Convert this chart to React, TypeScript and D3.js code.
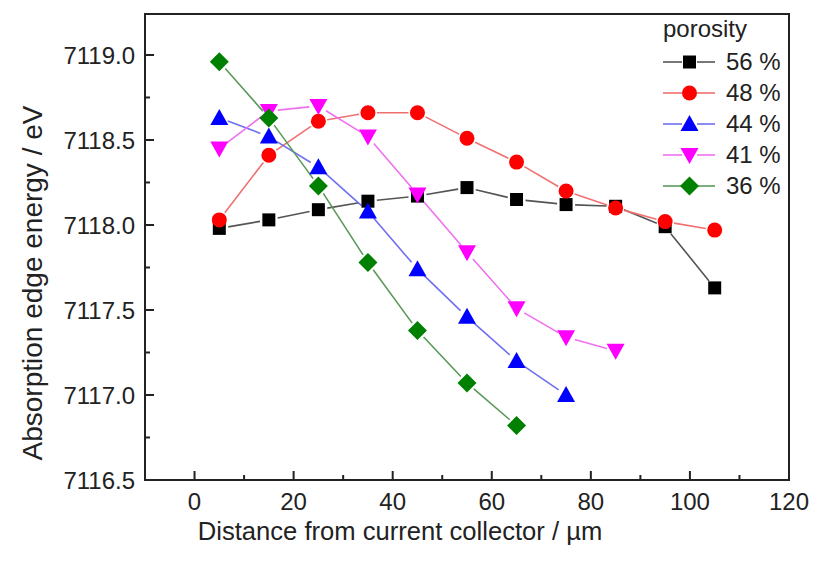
import React from 'react';
import * as d3 from 'd3';

const distances = [5, 15, 25, 35, 45, 55, 65, 75, 85, 95, 105];
const s56 = [7117.98, 7118.03, 7118.09, 7118.14, 7118.17, 7118.22, 7118.15, 7118.12, 7118.11, 7117.99, 7117.63];
const s48 = [7118.03, 7118.41, 7118.61, 7118.66, 7118.66, 7118.51, 7118.37, 7118.20, 7118.10, 7118.02, 7117.97];
const s44 = [7118.63, 7118.52, 7118.34, 7118.08, 7117.74, 7117.46, 7117.20, 7117.00];
const s41 = [7118.45, 7118.67, 7118.70, 7118.52, 7118.18, 7117.84, 7117.51, 7117.34, 7117.26];
const s36 = [7118.96, 7118.63, 7118.23, 7117.78, 7117.38, 7117.07, 7116.82];

const seriesLabels = ['56 %', '48 %', '44 %', '41 %', '36 %'];
const seriesValues = [s56, s48, s44, s41, s36];
const seriesColors = ['#000000', '#ff0000', '#0000ff', '#ff00ff', '#008000'];
const lineColors = ['#555555', '#f07070', '#7070f0', '#f070f0', '#5a9a5a'];
const seriesShapes = ['square', 'circle', 'triangle', 'triangleDown', 'diamond'];

const xTicks = [0, 20, 40, 60, 80, 100, 120];
const xMinor = [10, 30, 50, 70, 90, 110];
const yTicks = [7116.5, 7117.0, 7117.5, 7118.0, 7118.5, 7119.0];
const yMinor = [7116.75, 7117.25, 7117.75, 7118.25, 7118.75];

const FONT = '"Liberation Sans", Arial, Helvetica, sans-serif';

function markerPath(shape: string, cx: number, cy: number): string {
  switch (shape) {
    case 'square':
      return `M${cx - 6.5},${cy - 6.5}h13v13h-13Z`;
    case 'circle':
      return `M${cx - 7.5},${cy}a7.5,7.5 0 1,0 15,0a7.5,7.5 0 1,0 -15,0Z`;
    case 'triangle':
      return `M${cx},${cy - 9}L${cx + 9},${cy + 7}L${cx - 9},${cy + 7}Z`;
    case 'triangleDown':
      return `M${cx},${cy + 9}L${cx + 9},${cy - 7}L${cx - 9},${cy - 7}Z`;
    case 'diamond':
    default:
      return `M${cx},${cy - 9.5}L${cx + 9.5},${cy}L${cx},${cy + 9.5}L${cx - 9.5},${cy}Z`;
  }
}

export default function App() {
  const W = 814, H = 566;
  const left = 145, right = 789, top = 14, bottom = 480;
  const x = d3.scaleLinear().domain([-10, 120]).range([left, right]);
  const y = d3.scaleLinear().domain([7116.5, 7119.241]).range([bottom, top]);
  const gap = 9;

  const segs = (vals: number[]) => {
    const pts = vals.map((v, i) => [x(distances[i]), y(v)]);
    const out: string[] = [];
    for (let i = 0; i < pts.length - 1; i++) {
      const [x0, y0] = pts[i];
      const [x1, y1] = pts[i + 1];
      const dx = x1 - x0, dy = y1 - y0;
      const len = Math.hypot(dx, dy);
      if (len <= 2 * gap) continue;
      const ux = dx / len, uy = dy / len;
      out.push(`M${x0 + ux * gap},${y0 + uy * gap}L${x1 - ux * gap},${y1 - uy * gap}`);
    }
    return out.join('');
  };

  const legendX = 663;
  const legendY0 = 62;
  const legendDy = 31;

  return (
    <svg width={W} height={H} style={{ position: 'absolute', left: 0, top: 0, background: '#fff' }}>
      <rect x={0} y={0} width={W} height={H} fill="#fff" />
      {/* series lines */}
      {seriesValues.map((vals, si) => (
        <path key={'l' + si} d={segs(vals)} fill="none" stroke={lineColors[si]} strokeWidth={1.6} />
      ))}
      {/* markers */}
      {seriesValues.map((vals, si) => (
        <g key={'m' + si} fill={seriesColors[si]}>
          {vals.map((v, i) => (
            <path key={i} d={markerPath(seriesShapes[si], x(distances[i]), y(v))} />
          ))}
        </g>
      ))}
      {/* frame */}
      <rect x={left} y={top} width={right - left} height={bottom - top} fill="none" stroke="#222" strokeWidth={2} />
      {/* x ticks */}
      {xTicks.map((t) => (
        <g key={'xt' + t}>
          <line x1={x(t)} x2={x(t)} y1={bottom} y2={bottom - 9} stroke="#222" strokeWidth={2} />
          <text x={x(t)} y={510} textAnchor="middle" fontFamily={FONT} fontSize={24} fill="#222">{t}</text>
        </g>
      ))}
      {xMinor.map((t) => (
        <line key={'xm' + t} x1={x(t)} x2={x(t)} y1={bottom} y2={bottom - 5} stroke="#222" strokeWidth={2} />
      ))}
      {/* y ticks */}
      {yTicks.map((t) => (
        <g key={'yt' + t}>
          <line x1={left} x2={left + 9} y1={y(t)} y2={y(t)} stroke="#222" strokeWidth={2} />
          <text x={135} y={y(t) + 8.6} textAnchor="end" fontFamily={FONT} fontSize={24} fill="#222">{t.toFixed(1)}</text>
        </g>
      ))}
      {yMinor.map((t) => (
        <line key={'ym' + t} x1={left} x2={left + 5} y1={y(t)} y2={y(t)} stroke="#222" strokeWidth={2} />
      ))}
      {/* axis titles */}
      <text x={400} y={540} textAnchor="middle" fontFamily={FONT} fontSize={25.6} fill="#222">
        Distance from current collector / µm
      </text>
      <text transform={`translate(42,${283}) rotate(-90)`} textAnchor="middle" fontFamily={FONT} fontSize={28} fill="#222">
        Absorption edge energy / eV
      </text>
      {/* legend */}
      <text x={legendX} y={37} fontFamily={FONT} fontSize={24} fill="#222">porosity</text>
      {seriesLabels.map((lab, i) => {
        const cy = legendY0 + i * legendDy;
        return (
          <g key={'lg' + i}>
            <line x1={legendX} x2={legendX + 19} y1={cy} y2={cy} stroke={lineColors[i]} strokeWidth={1.6} />
            <line x1={legendX + 34} x2={legendX + 52} y1={cy} y2={cy} stroke={lineColors[i]} strokeWidth={1.6} />
            <path d={markerPath(seriesShapes[i], legendX + 26.5, cy)} fill={seriesColors[i]} />
            <text x={legendX + 63} y={cy + 8} fontFamily={FONT} fontSize={24} fill="#222">{lab}</text>
          </g>
        );
      })}
    </svg>
  );
}
